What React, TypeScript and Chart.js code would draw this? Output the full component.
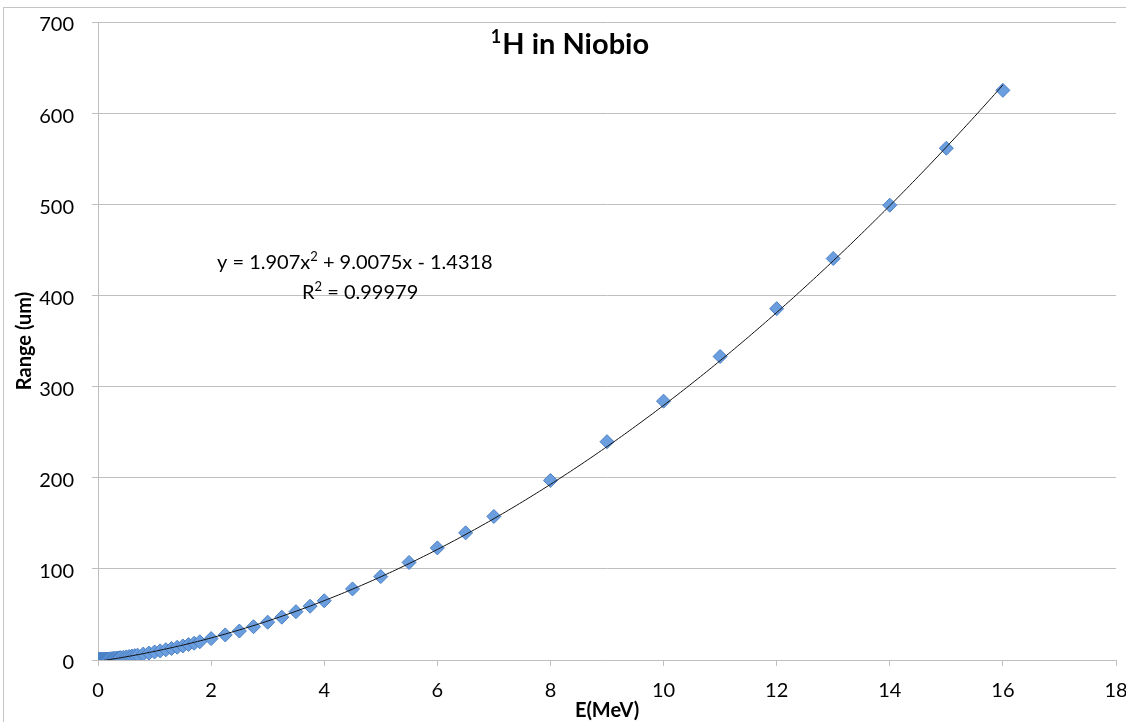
import React, { useEffect, useRef } from "react";
import { Chart, registerables } from "chart.js";

Chart.register(...registerables);

// Energy of the incident protons (MeV)
const energyMeV: number[] = [
  0.01, 0.011, 0.012, 0.013, 0.014, 0.015, 0.016, 0.017, 0.018, 0.02,
  0.0225, 0.025, 0.0275, 0.03, 0.0325, 0.035, 0.0375, 0.04, 0.045, 0.05,
  0.055, 0.06, 0.065, 0.07, 0.08, 0.09, 0.1, 0.11, 0.12, 0.13,
  0.14, 0.15, 0.16, 0.17, 0.18, 0.2, 0.225, 0.25, 0.275, 0.3,
  0.325, 0.35, 0.375, 0.4, 0.45, 0.5, 0.55, 0.6, 0.65, 0.7,
  0.8, 0.9, 1.0, 1.1, 1.2, 1.3, 1.4, 1.5, 1.6, 1.7,
  1.8, 2.0, 2.25, 2.5, 2.75, 3.0, 3.25, 3.5, 3.75, 4.0,
  4.5, 5.0, 5.5, 6.0, 6.5, 7.0, 8.0, 9.0, 10, 11,
  12, 13, 14, 15, 16,
];

// Projected range (um)
const rangeUm: number[] = [
  0.08, 0.09, 0.1, 0.1, 0.11, 0.12, 0.13, 0.13, 0.14, 0.15,
  0.17, 0.19, 0.2, 0.22, 0.24, 0.25, 0.27, 0.28, 0.31, 0.34,
  0.37, 0.4, 0.43, 0.46, 0.51, 0.57, 0.62, 0.68, 0.73, 0.79,
  0.84, 0.9, 0.96, 1.02, 1.07, 1.2, 1.35, 1.51, 1.68, 1.85,
  2.02, 2.2, 2.39, 2.58, 2.98, 3.4, 3.85, 4.31, 4.8, 5.3,
  6.5, 7.6, 8.8, 10.0, 11.3, 12.6, 14.0, 15.4, 16.9, 18.4,
  20.0, 23.5, 27.5, 31.8, 36.5, 41.5, 47, 53, 59, 65,
  78, 91.5, 107, 123, 139.5, 157.5, 197, 239.5, 284, 333,
  385.5, 440.5, 499, 561.5, 625,
];

// Polynomial trendline coefficients shown on the chart: y = a x^2 + b x + c
const trendA = 1.907;
const trendB = 9.0075;
const trendC = -1.4318;
const trendR2 = "0.99979";

const titleSup = "1";
const titleMain = "H in Niobio";
const xTitle = "E(MeV)";
const yTitle = "Range (um)";

const FONT = "Lato, 'Open Sans', sans-serif";

export default function App() {
  const ref = useRef<HTMLCanvasElement | null>(null);

  useEffect(() => {
    let chart: Chart | null = null;
    let cancelled = false;

    const make = () => {
      if (cancelled || !ref.current) return;
      const points = energyMeV.map((e, i) => ({ x: e, y: rangeUm[i] }));
      const xMin = energyMeV[0];
      const xMax = energyMeV[energyMeV.length - 1];
      const trendPts: { x: number; y: number }[] = [];
      const n = 320;
      for (let i = 0; i <= n; i++) {
        const x = xMin + ((xMax - xMin) * i) / n;
        trendPts.push({ x, y: trendA * x * x + trendB * x + trendC });
      }

      const textPlugin = {
        id: "overlayText",
        afterDraw(c: any) {
          const ctx: CanvasRenderingContext2D = c.ctx;
          ctx.save();
          ctx.fillStyle = "#000";
          ctx.textBaseline = "alphabetic";
          ctx.textAlign = "left";

          // Title with superscript
          ctx.font = `bold 18px ${FONT}`;
          const wSup = ctx.measureText(titleSup).width;
          ctx.font = `bold 29px ${FONT}`;
          const wMain = ctx.measureText(titleMain).width;
          const total = wSup + 1 + wMain;
          const tx = 570 - total / 2;
          ctx.font = `bold 18px ${FONT}`;
          ctx.fillText(titleSup, tx, 43);
          ctx.font = `bold 29px ${FONT}`;
          ctx.fillText(titleMain, tx + wSup + 1, 54);

          // Trendline equation
          const a = String(trendA);
          const b = String(trendB);
          const cAbs = String(Math.abs(trendC));
          const sign = trendC < 0 ? "-" : "+";
          const parts1: [string, boolean][] = [
            [`y = ${a}x`, false],
            ["2", true],
            [` + ${b}x ${sign} ${cAbs}`, false],
          ];
          const parts2: [string, boolean][] = [
            ["R", false],
            ["2", true],
            [` = ${trendR2}`, false],
          ];
          const drawParts = (parts: [string, boolean][], x0: number, base: number) => {
            let x = x0;
            for (const [t, sup] of parts) {
              ctx.font = sup ? `13px ${FONT}` : `20px ${FONT}`;
              ctx.fillText(t, x, sup ? base - 8 : base);
              x += ctx.measureText(t).width;
            }
          };
          drawParts(parts1, 217, 269);
          drawParts(parts2, 302, 299);
          ctx.restore();
        },
      };

      chart = new Chart(ref.current, {
        type: "scatter",
        data: {
          datasets: [
            {
              type: "line",
              label: "Poly. trend",
              data: trendPts,
              borderColor: "#111111",
              borderWidth: 1,
              pointRadius: 0,
              fill: false,
              tension: 0,
              order: 0,
            } as any,
            {
              label: "Range",
              data: points,
              pointStyle: "rectRot",
              pointRadius: 7,
              backgroundColor: "#6a9edf",
              borderColor: "#4a7fc4",
              borderWidth: 1,
              order: 1,
            },
          ],
        },
        options: {
          responsive: false,
          animation: false,
          devicePixelRatio: 1,
          layout: { padding: { top: 22, right: 10, left: 0, bottom: 0 } },
          plugins: {
            legend: { display: false },
            tooltip: { enabled: false },
            title: { display: false },
          },
          scales: {
            x: {
              type: "linear",
              min: 0,
              max: 18,
              ticks: {
                stepSize: 2,
                color: "#000",
                padding: 13,
                font: { family: FONT, size: 20 },
              },
              grid: {
                drawOnChartArea: false,
                drawTicks: true,
                tickLength: 6,
                color: "#bfbfbf",
              },
              border: { color: "#bfbfbf" },
              title: {
                display: true,
                text: xTitle,
                color: "#000",
                font: { family: FONT, size: 20, weight: "bold", lineHeight: 1 },
                padding: { top: 0, bottom: 1 },
              },
              afterFit: (s: any) => {
                s.height = 62;
                s.paddingLeft = 0;
                s.paddingRight = 0;
              },
            },
            y: {
              type: "linear",
              min: 0,
              max: 700,
              ticks: {
                stepSize: 100,
                color: "#000",
                padding: 18,
                labelOffset: 3,
                font: { family: FONT, size: 20 },
              },
              grid: { color: "#bfbfbf", tickLength: 6 },
              border: { color: "#bfbfbf" },
              title: {
                display: true,
                text: yTitle,
                color: "#000",
                font: { family: FONT, size: 20, weight: "bold", lineHeight: 1 },
                padding: { top: 15, bottom: 0 },
              },
              afterFit: (s: any) => {
                s.width = 98;
                s.paddingTop = 0;
                s.paddingBottom = 0;
              },
            },
          },
        } as any,
        plugins: [textPlugin],
      });
    };

    const fonts = (document as any).fonts;
    if (fonts && fonts.load) {
      Promise.all([fonts.load(`20px Lato`), fonts.load(`bold 20px Lato`)])
        .then(make)
        .catch(make);
    } else {
      make();
    }

    return () => {
      cancelled = true;
      if (chart) chart.destroy();
    };
  }, []);

  return (
    <div
      style={{
        position: "fixed",
        left: 0,
        top: 0,
        width: 1126,
        height: 722,
        background: "#fff",
        overflow: "hidden",
      }}
    >
      <div
        style={{
          position: "absolute",
          left: 3,
          top: 7,
          width: 1200,
          height: 800,
          border: "1px solid #c4c4c4",
        }}
      />
      <canvas
        ref={ref}
        width={1126}
        height={722}
        style={{ position: "absolute", left: 0, top: 0, width: 1126, height: 722 }}
      />
    </div>
  );
}
